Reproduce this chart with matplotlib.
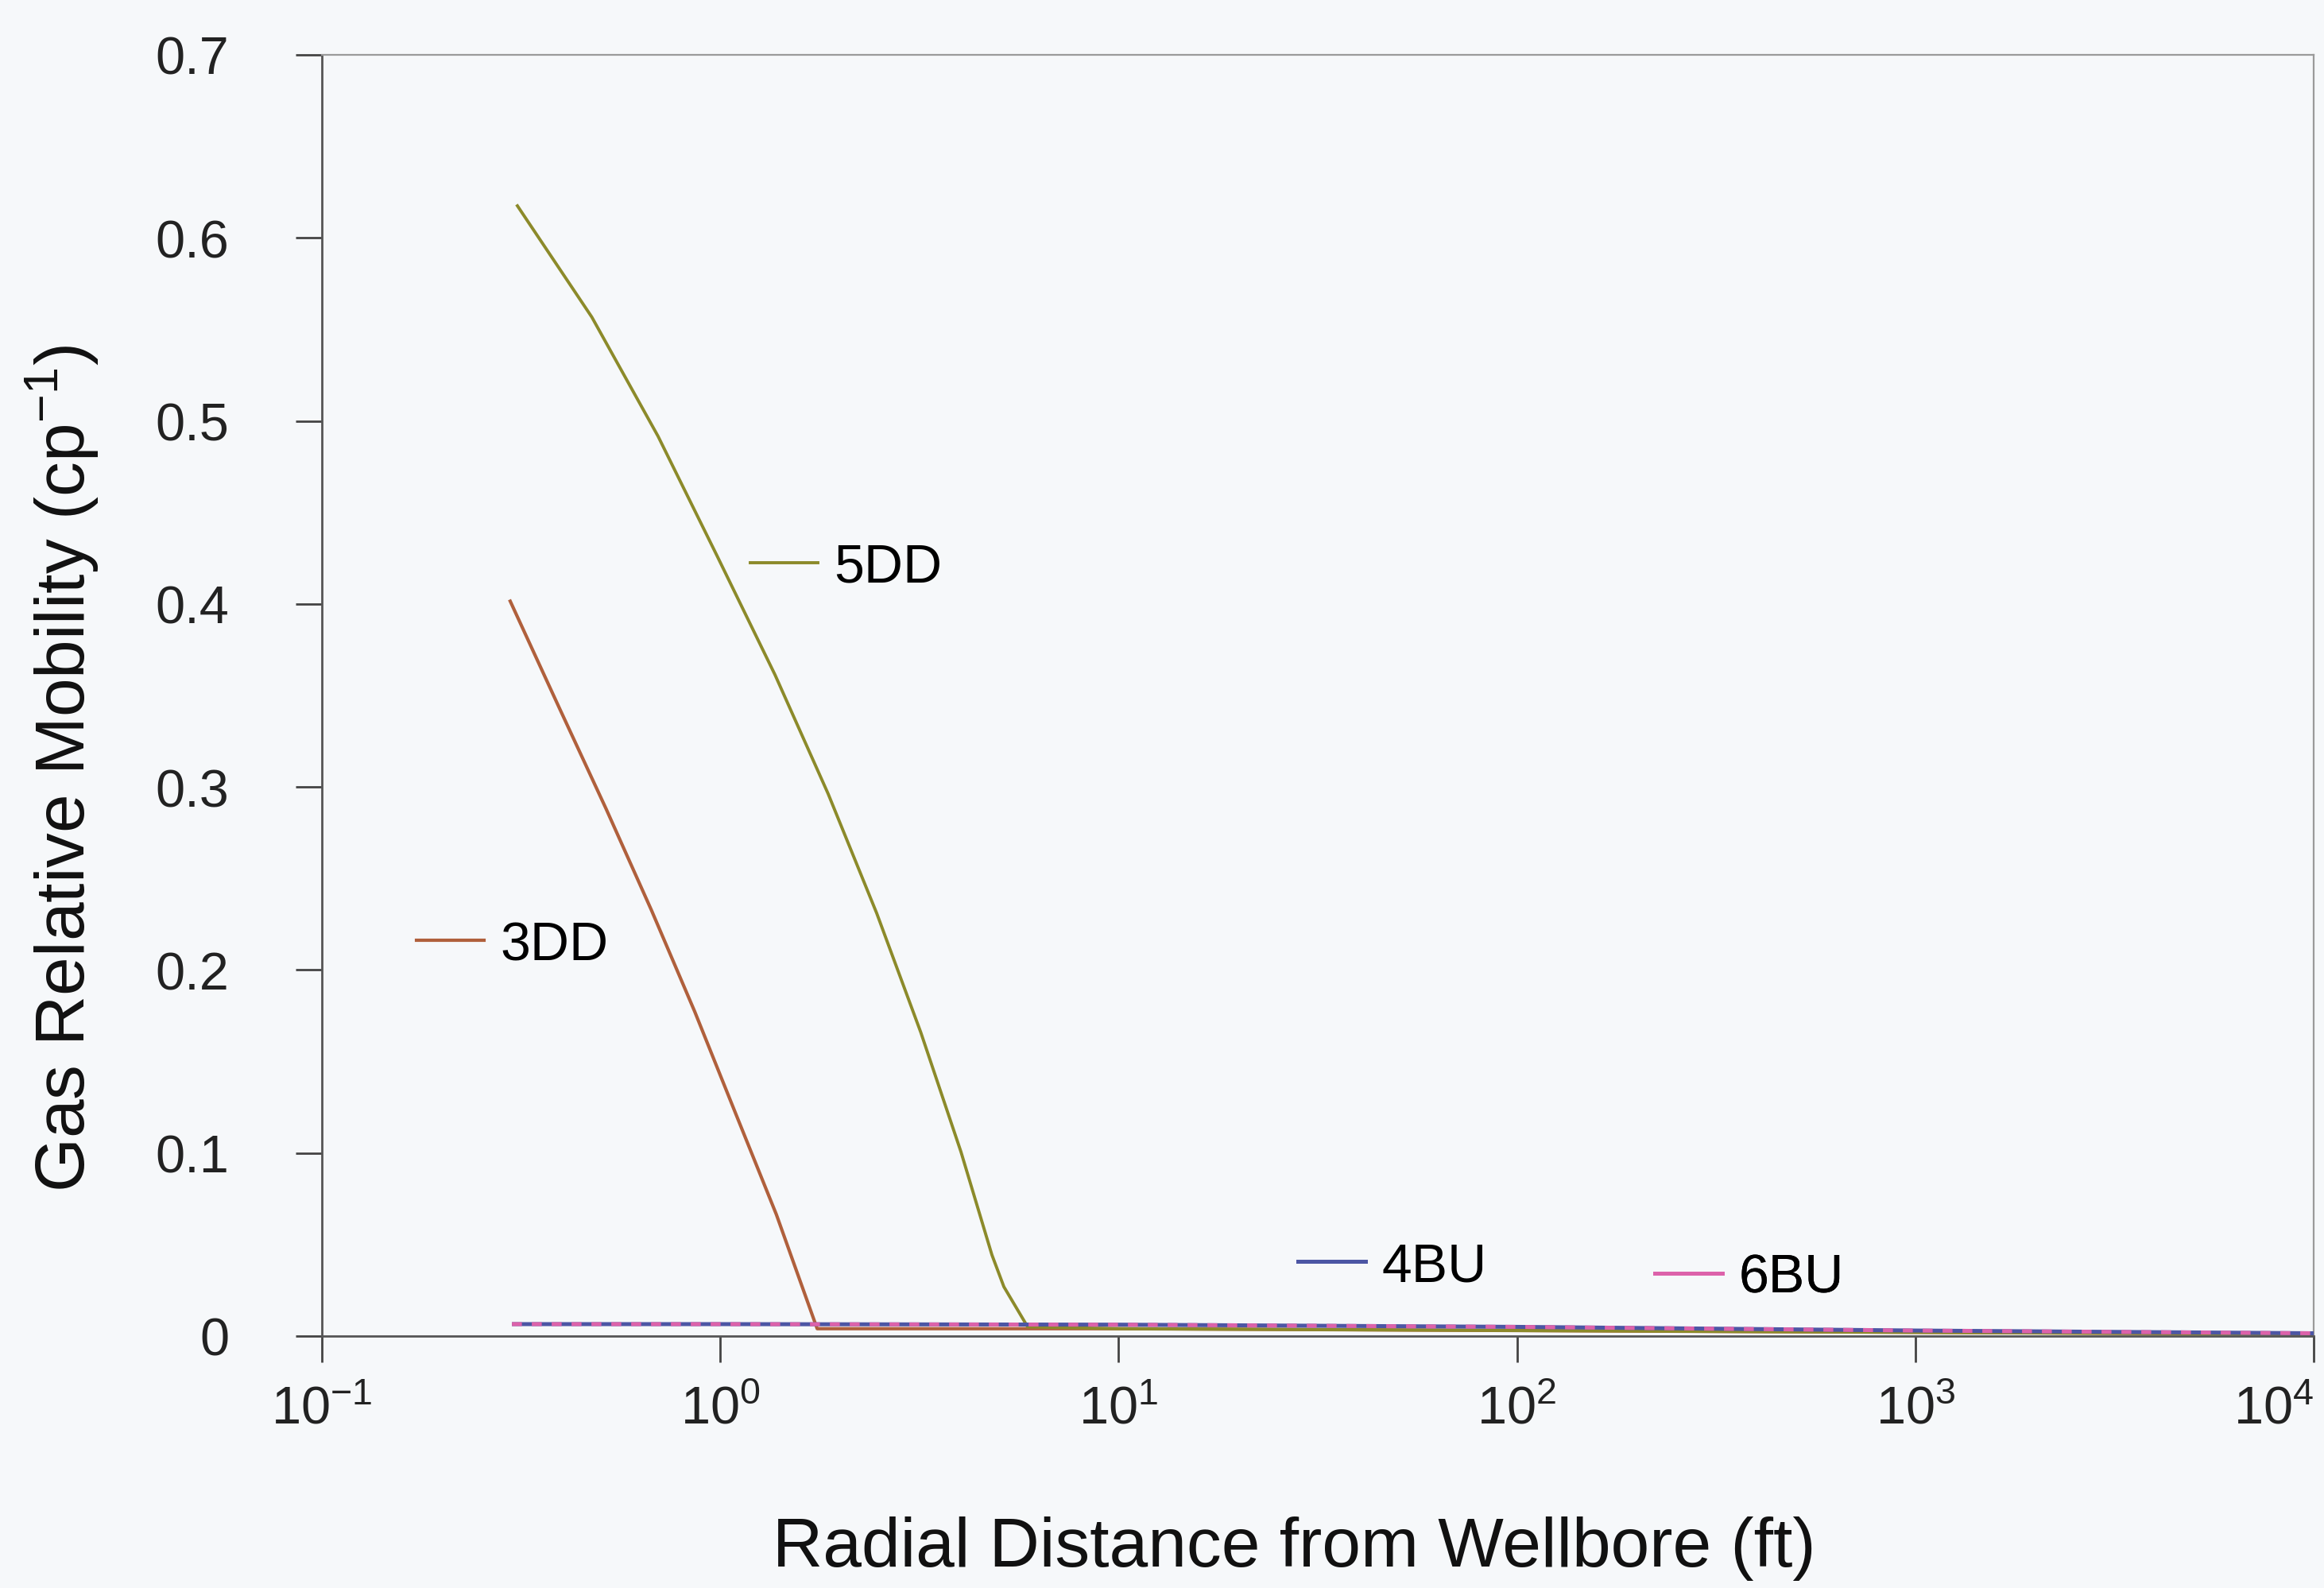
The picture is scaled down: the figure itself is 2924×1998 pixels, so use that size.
import matplotlib
matplotlib.use("Agg")
import matplotlib.pyplot as plt
from matplotlib.lines import Line2D
from matplotlib.ticker import FixedLocator, FixedFormatter, NullLocator

plt.rcParams['font.family'] = ['Liberation Sans', 'DejaVu Sans']
plt.rcParams['mathtext.default'] = 'regular'

# ---- data ----
r_3dd = [0.297, 0.394, 0.517, 0.672, 0.863, 1.092, 1.383, 1.751, 10.0, 100.0, 1000.0, 10000.0]
m_3dd = [0.4015, 0.3434, 0.288, 0.2326, 0.1772, 0.1218, 0.0664, 0.004, 0.004, 0.003, 0.002, 0.001]

r_5dd = [0.3096, 0.476, 0.698, 0.981, 1.372, 1.866, 2.470, 3.187, 4.019, 4.808, 5.152, 5.911, 10.0, 100.0, 1000.0, 10000.0]
m_5dd = [0.6175, 0.5567, 0.4916, 0.4264, 0.3613, 0.2962, 0.231, 0.1659, 0.1007, 0.0443, 0.0269, 0.005, 0.004, 0.003, 0.002, 0.001]

r_bu = [0.30, 1.0, 10.0, 100.0, 1000.0, 10000.0]
m_4bu = [0.0065, 0.0065, 0.0062, 0.005, 0.003, 0.0015]
m_6bu = [0.0065, 0.0065, 0.0062, 0.005, 0.003, 0.0015]

series_names = ['3DD', '5DD', '4BU', '6BU']
x_ticks = [0.1, 1, 10, 100, 1000, 10000]
x_tick_labels = ['10$^{-1}$', '10$^{0}$', '10$^{1}$', '10$^{2}$', '10$^{3}$', '10$^{4}$']
y_ticks = [0, 0.1, 0.2, 0.3, 0.4, 0.5, 0.6, 0.7]
y_tick_labels = ['0', '0.1', '0.2', '0.3', '0.4', '0.5', '0.6', '0.7']

x_label = 'Radial Distance from Wellbore (ft)'
y_label = 'Gas Relative Mobility (cp$^{-1}$)'

# ---- styling ----
c3 = '#b0603c'
c5 = '#8c8a2a'
c4 = '#4c56a4'
c6 = '#dc62aa'
bg = '#f6f8fa'

fig = plt.figure(figsize=(29.24, 19.99), dpi=100, facecolor=bg)
ax = fig.add_axes([0.1385, 0.1586, 0.8571, 0.8064])
ax.set_facecolor(bg)

ax.plot(r_3dd, m_3dd, color=c3, lw=3.0, zorder=2, solid_joinstyle='round')
ax.plot(r_5dd, m_5dd, color=c5, lw=2.8, zorder=2, solid_joinstyle='round')
ax.plot(r_bu, m_4bu, color=c4, lw=3.6, solid_capstyle='butt', zorder=3)
ax.plot(r_bu, m_6bu, color=c6, lw=3.6, dashes=(2.5, 2.5), zorder=4)

ax.set_xscale('log')
ax.set_xlim(0.1, 1e4)
ax.set_ylim(0, 0.7)
ax.xaxis.set_major_locator(FixedLocator(x_ticks))
ax.xaxis.set_major_formatter(FixedFormatter(x_tick_labels))
ax.xaxis.set_minor_locator(NullLocator())
ax.set_yticks(y_ticks)
ax.set_yticklabels(y_tick_labels)

for s in ['left', 'bottom']:
    ax.spines[s].set_color('#555555')
    ax.spines[s].set_linewidth(2.0)
for s in ['top', 'right']:
    ax.spines[s].set_color('#9a9a9a')
    ax.spines[s].set_linewidth(1.6)

ax.tick_params(axis='y', direction='out', length=24, width=2.0, color='#444444',
               labelsize=48, pad=60, labelcolor='#222222')
ax.tick_params(axis='x', direction='out', length=24, width=2.0, color='#444444',
               labelsize=48, pad=20, labelcolor='#222222')
ax.get_xticklabels()[-1].set_horizontalalignment('right')

ax.set_xlabel(x_label, fontsize=63, color='#111111')
ax.set_ylabel(y_label, fontsize=63, color='#111111')
ax.xaxis.set_label_coords(0.488, -0.140)
ax.yaxis.set_label_coords(-0.111, 0.4435)

# in-plot labels (separate single-entry legends)
handles = [Line2D([], [], color=c3, lw=3.0),
           Line2D([], [], color=c5, lw=2.8),
           Line2D([], [], color=c4, lw=3.6),
           Line2D([], [], color=c6, lw=3.6)]
anchors = [(0.0475, 0.305), (0.215, 0.600), (0.490, 0.0545), (0.669, 0.0455)]
for h, name, anc in zip(handles, series_names, anchors):
    leg = ax.legend([h], [name], loc='center left', bbox_to_anchor=anc,
                    frameon=False, fontsize=49, handlelength=1.25,
                    handletextpad=0.3, borderpad=0, borderaxespad=0)
    ax.add_artist(leg)

fig.savefig('out.png', dpi=100, facecolor=bg)
